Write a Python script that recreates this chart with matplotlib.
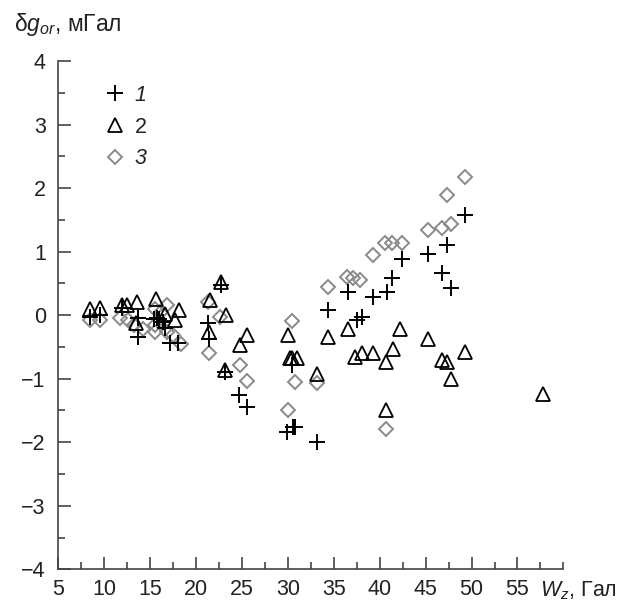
"""Scatter of the correction delta g_or against W_z for three series."""

import matplotlib

matplotlib.use("Agg")
import matplotlib.pyplot as plt
from matplotlib.ticker import MultipleLocator

plt.rcParams["font.family"] = ["Liberation Sans", "DejaVu Sans"]
plt.rcParams["mathtext.fontset"] = "custom"
plt.rcParams["mathtext.rm"] = "Liberation Sans"
plt.rcParams["mathtext.it"] = "Liberation Sans:italic"

AXIS_COLOR = "#444444"
TEXT_COLOR = "#222222"
DIAMOND_COLOR = "#8a8a8a"

# series 1 (plus)
wz_1 = [8.45, 9.5, 11.9, 13.65, 13.7, 15.4, 15.7, 16.0, 16.4, 16.6, 17.2, 18.0,
        21.3, 21.45, 22.7, 23.2, 24.7, 25.6, 29.9, 30.4, 30.6, 30.8, 33.15,
        34.4, 36.5, 37.5, 38.05, 39.3, 40.8, 41.3, 42.4, 45.3, 46.8, 47.3, 47.75, 49.3]
dg_1 = [-0.03, 0.0, 0.11, -0.34, -0.05, -0.06, -0.05, -0.06, -0.1, -0.2, -0.44, -0.44,
        -0.13, -0.37, 0.47, -0.89, -1.26, -1.44, -1.84, -0.79, -1.76, -1.76, -2.0,
        0.08, 0.37, -0.08, -0.03, 0.29, 0.37, 0.58, 0.89, 0.97, 0.66, 1.10, 0.42, 1.57]

# series 2 (triangles)
wz_2 = [8.45, 9.55, 11.9, 12.45, 13.6, 13.5, 15.6, 16.6, 17.7, 18.1,
        21.5, 21.45, 22.7, 23.3, 23.2, 24.8, 25.5, 30.05, 30.2, 30.4, 30.95, 33.15,
        34.4, 36.6, 37.3, 38.05, 39.3, 40.7, 40.7, 41.4, 42.2,
        45.3, 46.8, 47.3, 47.75, 49.3, 57.8]
dg_2 = [0.10, 0.11, 0.16, 0.16, 0.21, -0.13, 0.26, 0.02, -0.08, 0.08,
        0.24, -0.26, 0.52, 0.0, -0.87, -0.47, -0.31, -0.31, -0.68, -0.68, -0.68, -0.92,
        -0.35, -0.21, -0.66, -0.6, -0.6, -0.73, -1.49, -0.54, -0.21,
        -0.37, -0.71, -0.74, -1.0, -0.58, -1.24]

# series 3 (diamonds)
wz_3 = [8.4, 9.5, 11.7, 12.6, 13.2, 14.2, 15.5, 15.5, 15.5, 16.2, 16.8, 16.8, 17.5, 18.4,
        21.3, 22.6, 21.4, 24.8, 25.6, 30.4, 30.8, 33.15, 30.05, 40.7,
        34.4, 36.4, 37.1, 37.9, 39.25, 40.6, 41.3, 42.4,
        45.3, 46.8, 47.75, 47.3, 49.3]
dg_3 = [-0.08, -0.08, -0.05, -0.08, -0.16, -0.22, 0.10, -0.16, -0.26, 0.05, 0.16, -0.26, -0.31, -0.45,
        0.21, -0.03, -0.6, -0.79, -1.04, -0.09, -1.05, -1.07, -1.49, -1.79,
        0.45, 0.60, 0.58, 0.56, 0.94, 1.14, 1.13, 1.14,
        1.34, 1.37, 1.44, 1.89, 2.18]

x_ticks = [5, 10, 15, 20, 25, 30, 35, 40, 45, 50, 55]
y_ticks = [-4, -3, -2, -1, 0, 1, 2, 3, 4]

fig = plt.figure(figsize=(6.28, 6.01), dpi=100)
ax = fig.add_axes([0.0928, 0.0527, 0.8043, 0.8458])

ax.plot(wz_1, dg_1, linestyle="None", marker="+", markersize=12,
        markeredgewidth=1.4, color="black", label="1", zorder=3)
ax.plot(wz_2, dg_2, linestyle="None", marker="^", markersize=9.5,
        markerfacecolor="none", markeredgewidth=1.3, color="black", label="2", zorder=2)
ax.plot(wz_3, dg_3, linestyle="None", marker="D", markersize=7.5,
        markerfacecolor="none", markeredgewidth=1.4, color=DIAMOND_COLOR, label="3", zorder=1)

ax.set_xlim(5, 60)
ax.set_ylim(-4, 4)
ax.set_xticks(x_ticks)
ax.set_xticklabels([str(t) for t in x_ticks])
ax.set_yticks(y_ticks)
ax.set_yticklabels([f"{t}".replace("-", "\u2212") for t in y_ticks])
ax.xaxis.set_minor_locator(MultipleLocator(2.5))
ax.yaxis.set_minor_locator(MultipleLocator(0.5))

for side in ("top", "right"):
    ax.spines[side].set_visible(False)
for side in ("left", "bottom"):
    ax.spines[side].set_color(AXIS_COLOR)
    ax.spines[side].set_linewidth(1.2)

ax.tick_params(which="both", direction="in", color=AXIS_COLOR, width=1.2,
               labelsize=15.5, labelcolor=TEXT_COLOR)
ax.tick_params(which="major", length=9, pad=7)
ax.tick_params(which="minor", length=5)
ax.tick_params(axis="y", which="major", pad=9)

# axis captions
ax.annotate(r"$W_z$, Гал", xy=(57.4, 0), xycoords=("data", "axes fraction"),
            xytext=(0, -7), textcoords="offset points", ha="left", va="top",
            fontsize=15.5, color=TEXT_COLOR)
fig.text(0.022, 0.948, r"δ$g_{or}$, мГал", fontsize=16.5, color=TEXT_COLOR,
         ha="left", va="baseline")

leg = ax.legend(loc="upper left", bbox_to_anchor=(0.07, 0.97), frameon=False,
                fontsize=15.5, handletextpad=0.3, labelspacing=0.5,
                handlelength=1.2, borderaxespad=0)
for text, style in zip(leg.get_texts(), ("italic", "normal", "italic")):
    text.set_fontstyle(style)
    text.set_color(TEXT_COLOR)

fig.savefig("out.png", dpi=100)
